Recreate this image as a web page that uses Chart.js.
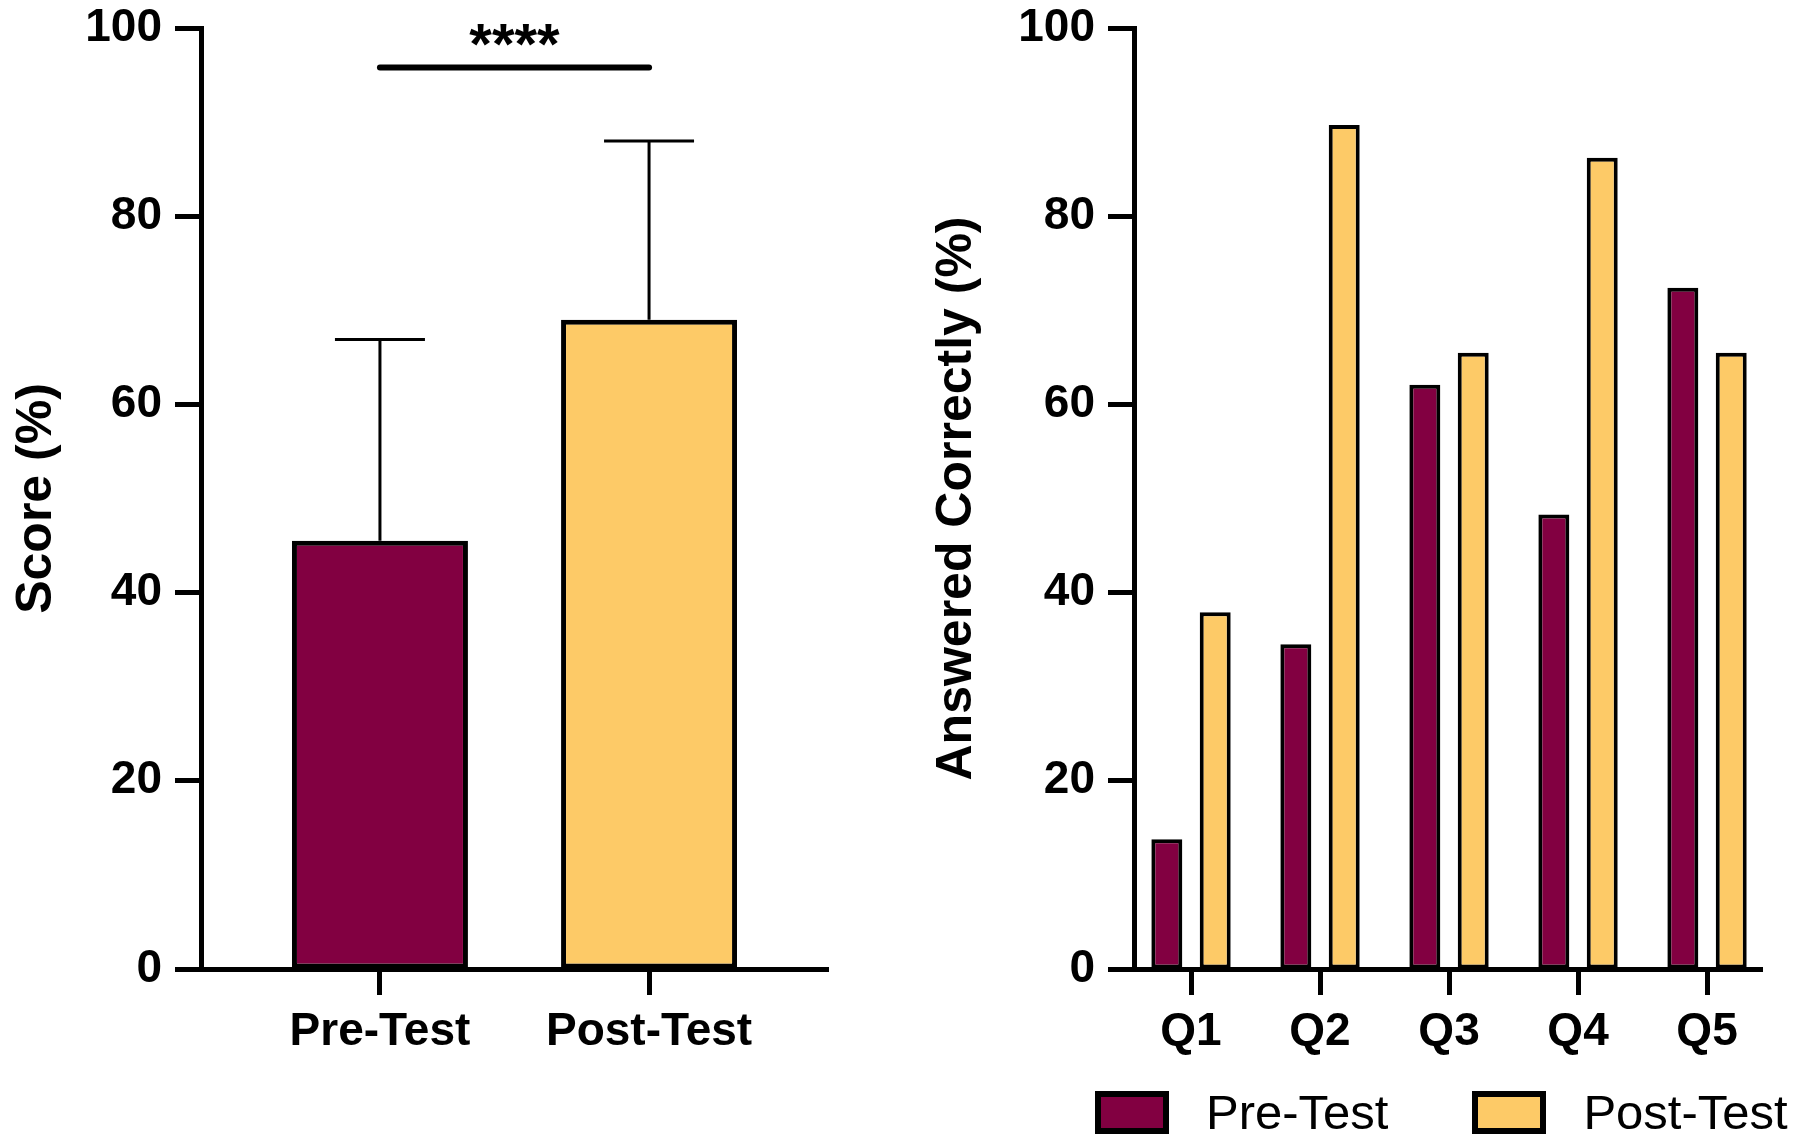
<!DOCTYPE html>
<html>
<head>
<meta charset="utf-8">
<script src="https://cdn.jsdelivr.net/npm/chart.js"></script>
<style>
  html, body { margin:0; padding:0; background:#fff; overflow:hidden; }
  body { width:1800px; height:1147px; position:relative; font-family:'Liberation Sans', Arial, sans-serif; }
  .box { position:absolute; top:0; width:900px; height:1147px; }
  #legend { position:absolute; left:1095px; top:1088px; display:flex; align-items:center; white-space:nowrap; width:720px; }
  .item { display:flex; align-items:center; margin-right:84px; flex:none; }
  .swatch { width:62px; height:31px; border:6px solid #000; flex:none; }
  .lbl { font-size:49px; line-height:1; color:#000; margin-left:37px; white-space:nowrap; }
</style>
</head>
<body>
<div class="box" style="left:0"><canvas id="scoreChart"></canvas></div>
<div class="box" style="left:900px"><canvas id="questionChart"></canvas></div>
<div id="legend"></div>

<script>
// score chart (left)
const scoreGroups = ['Pre-Test', 'Post-Test'];
const scoreMeans = [45.5, 69.0];
const scoreSD = [21.4, 19.0];
const sigPair = [0, 1];
const sigLevel = 95.8;
const starLevel = 96.2;
const sigLabel = '****';

// per question chart (right)
const questions = ['Q1', 'Q2', 'Q3', 'Q4', 'Q5'];
const preCorrect = [13.8, 34.5, 62.1, 48.3, 72.4];
const postCorrect = [37.9, 89.7, 65.5, 86.2, 65.5];

const yTicks = [0, 20, 40, 60, 80, 100];

const MAROON = '#820041';
const GOLD = '#FDCA67';
const FONT = "'Liberation Sans', Arial, sans-serif";

Chart.defaults.font.family = FONT;
Chart.defaults.color = '#000';

function axisGrid(){
  return { offset:false, drawOnChartArea:false, drawTicks:true, tickLength:26, tickWidth:5, tickColor:'#000' };
}
function yAxis(title, width, titlePad){
  return {
    min:0, max:100,
    afterBuildTicks: s => { s.ticks = yTicks.map(v => ({value:v})); },
    afterFit: s => { s.width = width; s.paddingTop = 0; s.paddingBottom = 0; },
    grid: axisGrid(),
    border: { display:true, color:'#000', width:5 },
    ticks: { font:{size:46, weight:'bold'}, color:'#000', padding:13 },
    title: { display:true, text:title, color:'#000', font:{size:50, weight:'bold'}, padding:{top:titlePad, bottom:0} }
  };
}
function xAxis(cats, min, max){
  return {
    type:'linear', min:min, max:max, offset:false,
    afterBuildTicks: s => { s.ticks = cats.map((c, i) => ({value:i})); },
    afterFit: s => { s.height = 178; s.paddingLeft = 0; s.paddingRight = 0; },
    grid: axisGrid(),
    border: { display:true, color:'#000', width:5 },
    ticks: { font:{size:46, weight:'bold'}, color:'#000', padding:10, autoSkip:false, maxRotation:0,
             callback: v => cats[v] }
  };
}

const errorBars = {
  id:'errorBars',
  afterDatasetsDraw(chart){
    const {ctx, scales:{x, y}} = chart;
    ctx.save();
    ctx.strokeStyle = '#000';
    ctx.fillStyle = '#000';
    ctx.lineWidth = 3;
    scoreMeans.forEach((m, i) => {
      const px = x.getPixelForValue(i);
      const base = y.getPixelForValue(m);
      const top = y.getPixelForValue(m + scoreSD[i]);
      ctx.beginPath();
      ctx.moveTo(px, base); ctx.lineTo(px, top);
      ctx.moveTo(px - 45, top); ctx.lineTo(px + 45, top);
      ctx.stroke();
    });
    const x0 = x.getPixelForValue(sigPair[0]);
    const x1 = x.getPixelForValue(sigPair[1]);
    const sy = y.getPixelForValue(sigLevel);
    ctx.lineWidth = 6;
    ctx.lineCap = 'round';
    ctx.beginPath(); ctx.moveTo(x0, sy); ctx.lineTo(x1, sy); ctx.stroke();
    ctx.font = 'bold 58px ' + FONT;
    ctx.textAlign = 'center';
    ctx.textBaseline = 'alphabetic';
    ctx.fillText(sigLabel, (x0 + x1) / 2, y.getPixelForValue(starLevel));
    ctx.restore();
  }
};

new Chart(document.getElementById('scoreChart'), {
  type:'bar',
  data:{
    datasets:[{
      label:'Score',
      data: scoreMeans.map((m, i) => ({x:i, y:m})),
      backgroundColor:[MAROON, GOLD],
      borderColor:'#000', borderWidth:5, borderSkipped:false,
      categoryPercentage:1, barPercentage:0.654
    }]
  },
  options:{
    responsive:true, maintainAspectRatio:false, animation:false,
    layout:{ padding:{top:28, right:72, bottom:0, left:0} },
    plugins:{ legend:{display:false}, tooltip:{enabled:false} },
    scales:{
      x: xAxis(scoreGroups, -0.665, 1.665),
      y: yAxis('Score (%)', 201, 7)
    }
  },
  plugins:[errorBars]
});

const qChart = new Chart(document.getElementById('questionChart'), {
  type:'bar',
  data:{
    datasets:[
      { label:'Pre-Test', data: preCorrect.map((v, i) => ({x:i, y:v})),
        backgroundColor:MAROON, borderColor:'#000', borderWidth:4, borderSkipped:false,
        categoryPercentage:0.75, barPercentage:0.64 },
      { label:'Post-Test', data: postCorrect.map((v, i) => ({x:i, y:v})),
        backgroundColor:GOLD, borderColor:'#000', borderWidth:4, borderSkipped:false,
        categoryPercentage:0.75, barPercentage:0.64 }
    ]
  },
  options:{
    responsive:true, maintainAspectRatio:false, animation:false,
    layout:{ padding:{top:28, right:38, bottom:0, left:0} },
    plugins:{ legend:{display:false}, tooltip:{enabled:false} },
    scales:{
      x: xAxis(questions, -0.442, 4.426),
      y: yAxis('Answered Correctly (%)', 234, 27)
    }
  }
});

// html legend built from the datasets
const legendEl = document.getElementById('legend');
qChart.data.datasets.forEach(ds => {
  const it = document.createElement('div');
  it.className = 'item';
  it.innerHTML = '<div class="swatch" style="background:' + ds.backgroundColor + '"></div><span class="lbl">' + ds.label + '</span>';
  legendEl.appendChild(it);
});
</script>
</body>
</html>
